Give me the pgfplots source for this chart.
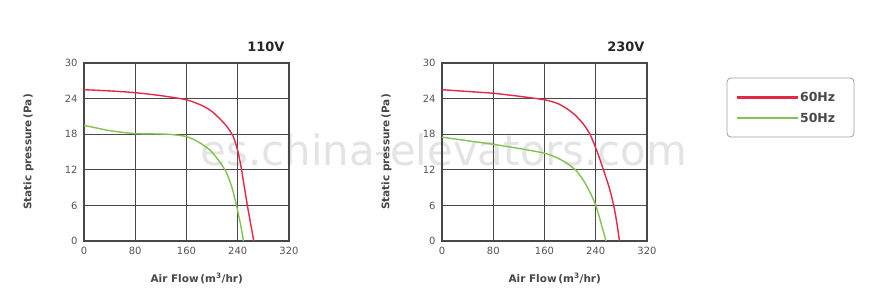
\documentclass[border=0pt]{standalone}
\usepackage{pgfplots}
\pgfplotsset{compat=1.18}
\usepackage{fontspec}
\setmainfont{DejaVu Sans}
\definecolor{cred}{RGB}{226,42,72}
\definecolor{cgreen}{RGB}{132,194,82}
\definecolor{cgrid}{RGB}{72,72,72}
\definecolor{ctick}{RGB}{85,85,85}
\definecolor{cwater}{RGB}{228,228,228}
\pgfplotstableread{
x y
0 25.5
40 25.3
80 25.0
120 24.5
160 23.8
185 22.8
200 21.8
212 20.6
223 19.3
233 17.6
240 15.2
245 12.6
250 9.3
255 6.0
260 3.0
265 0
}\redA
\pgfplotstableread{
x y
0 19.5
40 18.6
80 18.1
130 18.0
160 17.6
180 16.6
198 15.2
212 13.3
222 11.6
231 9.0
238 6.0
244 3.0
249 0
}\greenA
\pgfplotstableread{
x y
0 25.5
40 25.2
80 24.9
120 24.4
160 23.8
180 23.2
195 22.3
208 21.2
220 19.8
231 18.0
241 15.4
252 12.0
261 9.0
268 6.0
273 3.0
277 0
}\redB
\pgfplotstableread{
x y
0 17.5
40 16.9
80 16.3
120 15.6
160 14.8
180 14.0
195 13.1
210 11.8
222 10.0
232 8.0
240 6.0
247 3.5
256 0
}\greenB
\pgfplotsset{
  fanaxis/.style={
    scale only axis, width=205bp, height=178bp,
    xmin=0, xmax=320, ymin=0, ymax=30,
    xtick={0,80,...,320}, ytick={0,6,...,30},
    xmajorgrids, ymajorgrids,
    major grid style={cgrid, line width=1.3bp},
    axis line style={cgrid, line width=1.3bp},
    major tick length=0pt,
    tick label style={font=\fontsize{10}{10}\selectfont, text=ctick},
    /pgf/number format/assume math mode=true,
    xticklabel style={yshift=-3bp},
    yticklabel style={xshift=-3bp},
    xlabel={Air Flow\,(m\textsuperscript{3}/hr)},
    ylabel={Static pressure\,(Pa)},
    label style={font=\bfseries\fontsize{10.5}{11}\selectfont, text=cgrid},
    xlabel style={at={(axis description cs:0.55,0)}, anchor=north, yshift=-29bp},
    ylabel style={at={(axis description cs:0,0.5)}, anchor=south, yshift=47bp},
    clip=false,
  },
}
\begin{document}
\begin{tikzpicture}[x=1bp,y=1bp]
\path[fill=white] (0bp,0bp) rectangle (884bp,297bp);
\node[font=\fontsize{42}{42}\selectfont, text=cwater] at (444bp,147bp) {es.china-elevators.com};
\begin{axis}[fanaxis, at={(84bp,56bp)}, anchor=south west]
\addplot[color=cred, line width=1.4bp, smooth, tension=0.4, mark=none] table {\redA};
\addplot[color=cgreen, line width=1.4bp, smooth, tension=0.4, mark=none] table {\greenA};
\end{axis}
\node[anchor=east, font=\bfseries\fontsize{13}{14}\selectfont, text=black!85] at (288bp,250bp) {110V};
\draw[gray!75, line width=0.8bp, rounded corners=4bp] (727bp,160bp) rectangle (854bp,219bp);
\begin{axis}[fanaxis, at={(442bp,56bp)}, anchor=south west,
  legend style={at={(1.39,0.916)}, anchor=north west, draw=none, fill=none,
    inner xsep=10bp, inner ysep=12bp,
    row sep=6bp, font=\bfseries\fontsize{12.5}{12.5}\selectfont},
  legend cell align=left,
  legend image code/.code={\fill[#1, draw=none] (0bp,-1.2bp) rectangle (61bp,1.2bp);}]
\addplot[color=cred, line width=1.4bp, smooth, tension=0.4, mark=none] table {\redB};
\addlegendentry{\textcolor{cgrid}{60Hz}}
\addplot[color=cgreen, line width=1.4bp, smooth, tension=0.4, mark=none] table {\greenB};
\addlegendentry{\textcolor{cgrid}{50Hz}}
\end{axis}
\node[anchor=east, font=\bfseries\fontsize{13}{14}\selectfont, text=black!85] at (648bp,250bp) {230V};
\end{tikzpicture}
\end{document}
